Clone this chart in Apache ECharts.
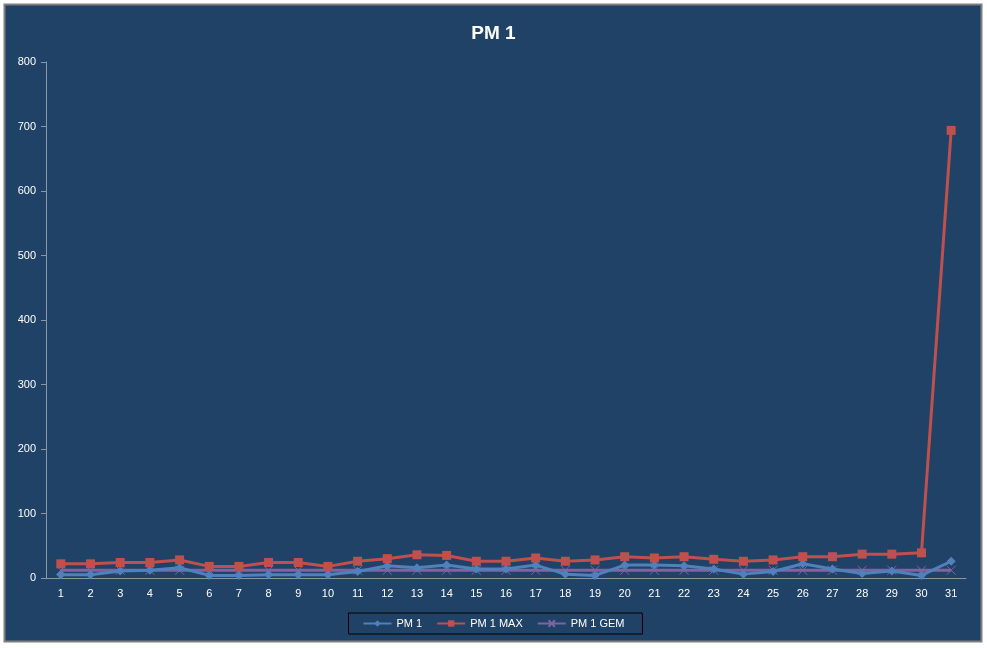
<!DOCTYPE html>
<html><head><meta charset="utf-8">
<script src="https://cdn.jsdelivr.net/npm/echarts@6/dist/echarts.min.js"></script>
<style>html,body{margin:0;padding:0;background:#fff}#c{width:987px;height:648px}</style>
</head><body><div id="c"></div>
<script>
const days = ['1','2','3','4','5','6','7','8','9','10','11','12','13','14','15','16','17','18','19','20','21','22','23','24','25','26','27','28','29','30','31'];
const pm1 = [5,5,11,12,16,4,4,5,5,5,10,19,16,20,14,14,20,6,4,20,20,19,14,6,10,22,14,7,11,4,26];
const pm1Max = [22,22,24,24,28,18,18,24,24,18,26,30,36,35,26,26,31,26,28,33,31,33,29,26,28,33,33,37,37,39,694];
const pm1Gem = [12,12,12,12,12,12,12,12,12,12,12,12,12,12,12,12,12,12,12,12,12,12,12,12,12,12,12,12,12,12,12];
const yTicks = [0,100,200,300,400,500,600,700,800];

const chart = echarts.init(document.getElementById('c'), null, {renderer:'canvas'});
const axisCol = '#8c96a0';
const font = 'Liberation Sans';
chart.setOption({
  backgroundColor: '#ffffff',
  animation: false,
  graphic: [{type:'rect', shape:{x:4.5,y:4.5,width:977,height:637}, style:{fill:'#1F4266', stroke:'#7f7f7f', lineWidth:2}, z:-10}],
  title: {text:'PM 1', left:'center', top:19, textStyle:{color:'#ffffff', fontSize:19, fontWeight:'bold', fontFamily:font}},
  grid: {left:46, right:21, top:62, bottom:70},
  legend: {
    bottom: 14, left:'center', itemWidth:28, itemHeight:8, itemGap:14,
    padding:[5,18,5,14], borderColor:'#000000', borderWidth:1,
    textStyle:{color:'#ffffff', fontSize:11, fontFamily:font},
    data:['PM 1','PM 1 MAX','PM 1 GEM']
  },
  xAxis: {
    type:'category', data: days, boundaryGap:true,
    axisLine:{lineStyle:{color:axisCol}},
    axisTick:{alignWithLabel:false, length:5, lineStyle:{color:axisCol}},
    axisLabel:{color:'#ffffff', fontSize:11, fontFamily:font, margin:10, interval:0},
  },
  yAxis: {
    type:'value', min:0, max:800, interval:100,
    axisLine:{show:true, lineStyle:{color:axisCol}},
    axisTick:{show:true, length:5, lineStyle:{color:axisCol}},
    splitLine:{show:false},
    axisLabel:{color:'#ffffff', fontSize:11, fontFamily:font, margin:10, formatter: v => yTicks.includes(v) ? String(v) : ''}
  },
  series: [
    {name:'PM 1', type:'line', data: pm1, symbol:'diamond', symbolSize:9,
     lineStyle:{color:'#4F81BD', width:3}, itemStyle:{color:'#4F81BD'}, z:3},
    {name:'PM 1 MAX', type:'line', data: pm1Max, symbol:'rect', symbolSize:9,
     lineStyle:{color:'#C0504D', width:3}, itemStyle:{color:'#C0504D'}, z:4},
    {name:'PM 1 GEM', type:'line', data: pm1Gem, symbol:'path://M0,0L10,10M10,0L0,10', symbolSize:9,
     lineStyle:{color:'#8064A2', width:3}, itemStyle:{color:'#8064A2', borderColor:'#8064A2', borderWidth:1}, z:2}
  ]
});
</script></body></html>
